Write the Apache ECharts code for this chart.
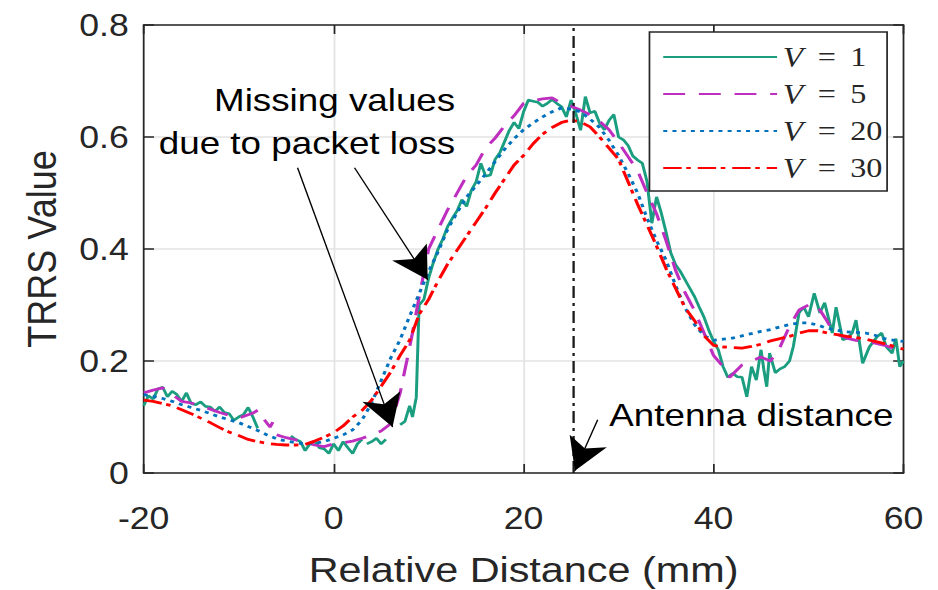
<!DOCTYPE html>
<html>
<head>
<meta charset="utf-8">
<script src="https://cdn.jsdelivr.net/npm/echarts@6/dist/echarts.min.js"></script>
<style>
  html, body { margin: 0; padding: 0; background: #fff; overflow: hidden; }
  #chart { width: 816px; height: 590px; transform: scaleX(1.1495); transform-origin: 0 0; }
</style>
</head>
<body>
<div id="chart"></div>
<script>
// ---------------- data ----------------
const xTicks = [-20, 0, 20, 40, 60];
const yTicks = [0, 0.2, 0.4, 0.6, 0.8];
const seriesNames = ['V = 1', 'V = 5', 'V = 20', 'V = 30'];

// V = 1 (noisy, with missing values = null)
const v1X = [-20,-19.5,-19,-18.5,-18,-17.5,-17,-16.5,-16,-15.5,-15,-14.5,-14,-13.5,-13,-12.5,-12,-11.5,-11,-10.5,-10,-9.5,-9,-8.5,-8,-7.5,
  -4.5,-4,-3.5,-3,-2.5,-2,-1.5,-1,-0.5,0,0.5,1,1.5,2,2.5,3,3.25,3.5,4,4.5,5,5.5,6,7,7.5,8,8.3,8.7,9,9.5,10,10.5,11,11.5,12,12.5,13,13.5,14,14.5,15,15.5,16,16.5,17,17.5,18,18.5,19,19.5,20,20.5,21,21.5,22,22.5,23,23.5,24,24.5,25,25.5,26,26.5,27,27.5,28,28.5,29,29.5,30,30.5,31,31.5,32,32.5,33,33.5,34,34.5,35,35.5,36,36.5,37,37.5,38,38.5,39,39.5,40,40.5,41,41.5,42,42.5,43,43.5,44,44.5,45,45.3,45.6,45.9,46.5,47,47.5,48,48.4,49,49.5,50,50.6,51.2,51.7,52.2,52.5,52.9,53.6,54,54.6,55,55.7,56.4,57.2,57.7,58.2,58.8,59.2,59.6,60];
const v1Y = [0.12,0.138,0.132,0.15,0.153,0.136,0.146,0.14,0.128,0.143,0.124,0.122,0.127,0.119,0.118,0.11,0.118,0.108,0.106,0.094,0.1,0.104,0.117,0.1,0.08,null,
  0.066,0.06,0.056,0.04,0.052,0.057,0.045,0.043,0.035,0.052,0.04,0.056,0.045,0.035,0.052,0.06,null,0.052,0.056,0.062,0.052,0.06,null,0.086,0.092,0.12,0.1,0.135,0.3,0.31,0.348,0.376,0.4,0.418,0.44,0.455,0.468,0.488,0.476,0.505,0.52,0.553,0.53,0.532,0.56,0.572,0.592,0.612,0.626,0.615,0.645,0.666,0.664,0.662,0.655,0.66,0.667,0.66,0.654,0.636,0.666,0.642,0.612,0.672,0.643,0.646,0.625,0.613,0.63,0.64,0.6,0.595,0.585,0.566,0.559,0.553,0.52,0.446,0.493,0.464,0.43,0.393,0.372,0.36,0.345,0.33,0.315,0.296,0.278,0.255,0.235,0.22,0.19,0.171,0.178,0.172,0.171,0.136,0.19,0.166,0.22,0.184,0.154,0.214,0.179,0.186,0.19,0.2,0.226,0.286,0.296,0.279,0.321,0.286,0.304,0.27,0.25,0.296,0.238,0.24,0.25,0.273,0.196,0.225,0.243,0.25,0.225,0.214,0.24,0.19,0.2];

// V = 5
const v5X = [-20,-19,-18,-17,-16,-15,-14,-13,-12,-11,-10,-9,-8.5,-8,-7.7,-7.3,-6.7,-6.4,-6.2,-6,-5,-4,-3,-2,-1,0,1,2,3,4,5,6,7,7.7,8.3,9,10,11,12,13,14,15,16,17,18,19,20,21,22,23,24,25,26,27,28,29,30,31,32,33,34,35,36,37,38,39,40,41,41.7,43,44,45,46,47,48,49,50,50.5,51.2,52,52.5,53,54,55,56,57,58,59,60];
const v5Y = [0.143,0.148,0.152,0.14,0.128,0.125,0.12,0.114,0.108,0.103,0.098,0.104,0.107,0.112,null,0.095,0.082,0.091,null,0.068,0.063,0.059,0.055,0.05,0.047,0.052,0.054,0.057,0.062,0.068,0.075,0.088,0.143,0.2,0.25,0.314,0.4,0.435,0.47,0.5,0.53,0.55,0.58,0.598,0.62,0.638,0.66,0.665,0.668,0.67,0.66,0.655,0.648,0.64,0.628,0.613,0.59,0.565,0.54,0.5,0.463,0.415,0.362,0.322,0.29,0.25,0.21,0.19,0.171,0.193,0.2,0.207,0.2,0.225,0.262,0.291,0.3,0.303,0.291,0.27,0.255,0.248,0.241,0.237,0.234,0.232,0.228,0.222,0.218];

// V = 20 and V = 30 sampled every 1 mm from -20 to 60
const v20X = [-20,-19,-18,-17,-16,-15,-14,-13,-12,-11,-10,-9,-8,-7,-6,-5,-4,-3,-2,-1,0,1,2,3,4,5,6,7,8,9,10,11,12,13,14,15,16,17,18,19,20,21,22,23,24,25,26,27,28,29,30,31,32,33,34,35,36,37,38,39,40,41,42,43,44,45,46,47,48,49,50,51,52,53,54,55,56,57,58,59,60];
const v20Y = [0.14,0.137,0.133,0.128,0.122,0.117,0.112,0.106,0.1,0.095,0.09,0.083,0.076,0.068,0.061,0.057,0.054,0.052,0.053,0.056,0.062,0.068,0.077,0.095,0.125,0.165,0.205,0.238,0.28,0.32,0.36,0.395,0.435,0.465,0.493,0.513,0.534,0.556,0.578,0.597,0.613,0.625,0.636,0.645,0.652,0.65,0.645,0.632,0.617,0.594,0.567,0.535,0.5,0.455,0.415,0.38,0.335,0.295,0.265,0.245,0.237,0.239,0.241,0.245,0.249,0.253,0.256,0.261,0.265,0.268,0.268,0.264,0.258,0.255,0.252,0.251,0.25,0.246,0.24,0.237,0.235];
const v30X = v20X;
const v30Y = [0.13,0.128,0.124,0.12,0.113,0.106,0.098,0.09,0.081,0.073,0.067,0.06,0.056,0.053,0.051,0.05,0.05,0.051,0.057,0.064,0.072,0.084,0.1,0.112,0.13,0.155,0.18,0.21,0.237,0.283,0.31,0.343,0.373,0.398,0.423,0.448,0.473,0.5,0.525,0.55,0.567,0.588,0.605,0.617,0.626,0.63,0.627,0.618,0.6,0.58,0.56,0.52,0.48,0.443,0.405,0.365,0.33,0.295,0.272,0.245,0.228,0.225,0.224,0.223,0.226,0.23,0.236,0.24,0.244,0.25,0.254,0.254,0.25,0.247,0.244,0.242,0.239,0.235,0.231,0.226,0.221];

// annotation: antenna distance and arrows (data units, [tail, tip])
const antennaX = 25.2;
const arrowLoss1 = [[-3.8, 0.545], [6.2, 0.082]];
const arrowLoss2 = [[2.2, 0.545], [9.9, 0.345]];
const arrowAntenna = [[27.8, 0.095], [25.4, 0.004]];

// ---------------- chart ----------------
const pairs = (xs, ys) => xs.map((x, i) => [x, ys[i] === null ? '-' : ys[i]]);
const FONT = '"Liberation Sans", Arial, sans-serif';
const SERIF = '"Liberation Serif", serif';
const TXT = '#262626';
const chart = echarts.init(document.getElementById('chart'), null, { renderer: 'svg' });

const xCommon = { type: 'value', min: xTicks[0], max: xTicks[xTicks.length - 1], interval: 20 };
const yCommon = { type: 'value', min: yTicks[0], max: yTicks[yTicks.length - 1], interval: 0.2 };
const axisLine = { show: true, onZero: false, lineStyle: { color: TXT, width: 1.5 } };
const tick = { show: true, inside: true, length: 9, lineStyle: { color: TXT, width: 1.5 } };

const lineSeries = (name, data, color, type, width) => ({
  name, type: 'line', data, symbol: 'none', showSymbol: false, connectNulls: false,
  lineStyle: { color, width, type }, itemStyle: { color }, animation: false, z: 3
});

const arrowItem = (a) => [
  { coord: a[0], symbol: 'none' },
  { coord: a[1], symbol: 'arrow', symbolSize: [26, 32] }
];

chart.setOption({
  animation: false,
  backgroundColor: '#fff',
  grid: { left: 125, right: 30, top: 25, bottom: 117, containLabel: false, outerBoundsMode: 'none' },
  xAxis: [
    Object.assign({}, xCommon, {
      position: 'bottom',
      name: 'Relative Distance (mm)', nameLocation: 'middle', nameGap: 78,
      nameTextStyle: { fontFamily: FONT, fontSize: 36, color: TXT },
      axisLine, axisTick: tick,
      axisLabel: { fontFamily: FONT, fontSize: 31, color: TXT, margin: 30 },
      splitLine: { show: true, lineStyle: { color: '#e3e3e3', width: 1.5 } }
    }),
    Object.assign({}, xCommon, {
      position: 'top', axisLine, axisTick: tick,
      axisLabel: { show: false }, splitLine: { show: false }
    })
  ],
  yAxis: [
    Object.assign({}, yCommon, {
      position: 'left',
      name: 'TRRS Value', nameLocation: 'middle', nameGap: 71, nameRotate: 90,
      nameTextStyle: { fontFamily: FONT, fontSize: 36, color: TXT },
      axisLine, axisTick: tick,
      axisLabel: { fontFamily: FONT, fontSize: 31, color: TXT, margin: 13 },
      splitLine: { show: true, lineStyle: { color: '#e3e3e3', width: 1.5 } }
    }),
    Object.assign({}, yCommon, {
      position: 'right', axisLine, axisTick: tick,
      axisLabel: { show: false }, splitLine: { show: false }
    })
  ],
  legend: {
    data: seriesNames,
    orient: 'vertical',
    left: 565, top: 32,
    padding: [10, 4, 8, 11],
    itemWidth: 99, itemHeight: 14, itemGap: 7,
    backgroundColor: '#fff',
    borderColor: TXT, borderWidth: 1.5, borderRadius: 0,
    selectedMode: false,
    itemStyle: { opacity: 0, borderWidth: 0 },
    formatter: (name) => '{v|V}{s|\u2009 = \u2009' + name.split('= ')[1] + '}',
    textStyle: {
      color: TXT, lineHeight: 30,
      rich: {
        v: { fontFamily: SERIF, fontStyle: 'italic', fontSize: 29, color: TXT, lineHeight: 30 },
        s: { fontFamily: SERIF, fontSize: 28, color: TXT, lineHeight: 30 }
      }
    },
    z: 10
  },
  series: [
    lineSeries(seriesNames[0], pairs(v1X, v1Y), '#1B9E80', 'solid', 2.6),
    lineSeries(seriesNames[1], pairs(v5X, v5Y), '#BF2FBF', [19, 12], 2.8),
    lineSeries(seriesNames[2], pairs(v20X, v20Y), '#0072BD', [3.5, 4.5], 2.8),
    lineSeries(seriesNames[3], pairs(v30X, v30Y), '#FF0000', [16, 4, 4, 6], 2.8),
    {
      name: 'antenna', type: 'line', data: [], silent: true, z: 4,
      markLine: {
        silent: true, animation: false,
        symbol: ['none', 'none'],
        label: { show: false },
        emphasis: { disabled: true },
        lineStyle: { color: '#1a1a1a', width: 2, type: [12, 5, 3, 5] },
        data: [ { xAxis: antennaX } ]
      }
    },
    {
      name: 'arrows', type: 'line', data: [], silent: true, z: 5, clip: false,
      markLine: {
        silent: true, animation: false,
        symbol: ['none', 'arrow'],
        label: { show: false },
        emphasis: { disabled: true },
        lineStyle: { color: '#000', width: 1.2, type: 'solid' },
        data: [ arrowItem(arrowLoss1), arrowItem(arrowLoss2), arrowItem(arrowAntenna) ]
      }
    }
  ],
  graphic: [
    { type: 'text', x: 396, y: 100, z: 20, style: { text: 'Missing values', fontFamily: FONT, fontSize: 32, fill: '#000', align: 'right', verticalAlign: 'middle' } },
    { type: 'text', x: 396, y: 143, z: 20, style: { text: 'due to packet loss', fontFamily: FONT, fontSize: 32, fill: '#000', align: 'right', verticalAlign: 'middle' } },
    { type: 'text', x: 530, y: 415, z: 20, style: { text: 'Antenna distance', fontFamily: FONT, fontSize: 32, fill: '#000', align: 'left', verticalAlign: 'middle' } }
  ]
});
</script>
</body>
</html>
